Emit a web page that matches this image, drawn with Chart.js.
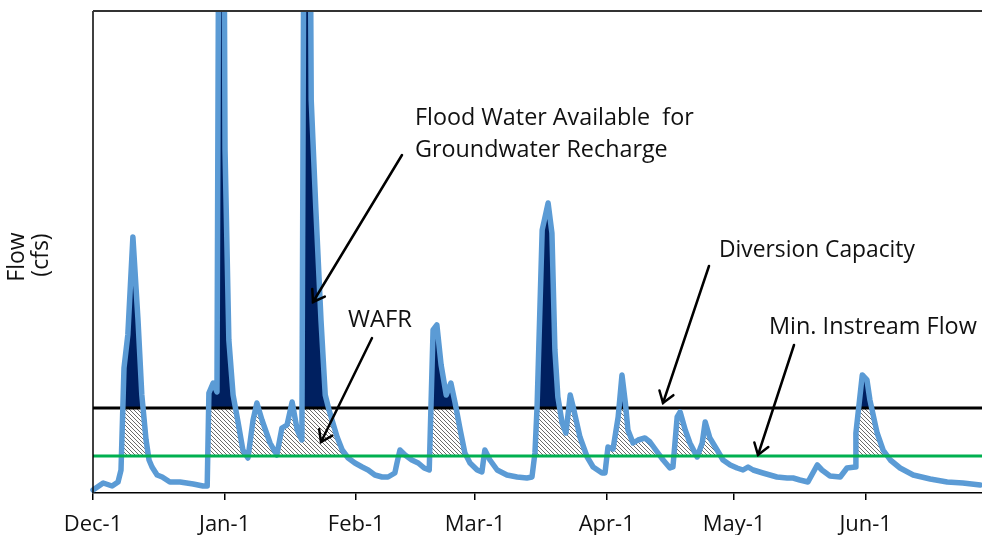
<!DOCTYPE html>
<html>
<head>
<meta charset="utf-8">
<script src="https://cdn.jsdelivr.net/npm/chart.js@4.4.1/dist/chart.umd.min.js"></script>
<style>
html,body{margin:0;padding:0;background:#fff;}
#wrap{width:982px;height:535px;position:relative;}
</style>
</head>
<body>
<div id="wrap"><canvas id="c"></canvas></div>
<script>
// ---- data (days since Dec-1, flow in arbitrary cfs units) ----
const flowDays = [0.0,2.4,4.5,5.9,6.6,7.3,8.2,9.4,10.6,11.5,12.5,13.2,13.9,15.1,16.3,18.1,20.5,23.6,25.9,26.9,
  27.3,28.3,29.2,30.2,31.1,32.0,33.0,34.2,35.3,36.5,37.7,38.6,39.8,41.7,43.3,44.5,45.7,46.9,48.1,49.2,
  50.3,51.4,52.5,53.7,54.7,55.6,56.3,57.5,58.7,60.1,61.7,63.4,64.8,66.4,68.1,69.5,71.1,71.6,72.3,73.5,
  75.1,76.6,78.0,79.2,80.1,81.0,82.0,83.2,84.3,85.3,86.5,87.6,88.8,90.5,91.6,92.3,93.5,95.2,97.5,99.9,
  102.2,103.4,104.1,104.6,105.8,107.2,108.1,108.8,109.5,110.5,111.4,112.4,113.1,114.7,116.4,117.8,119.9,120.6,121.3,122.5,
  123.7,124.6,125.4,126.0,127.2,128.4,130.0,131.2,132.9,134.3,135.9,136.6,137.6,138.3,139.5,140.6,142.3,143.5,144.2,145.3,
  147.0,148.4,150.1,151.7,153.1,154.3,155.5,157.8,161.1,163.5,164.9,166.5,168.4,170.6,171.7,173.6,176.0,177.6,179.5,179.7,
  181.2,182.3,183.0,184.7,186.1,187.8,190.1,193.2,197.2,201.2,204.9,209.0];
const flowValues = [6,20,14,22,46,250,316,512,346,196,106,66,52,36,32,22,22,18,14,14,
  200,220,202,2586,686,306,196,140,86,70,146,180,146,100,76,130,136,182,126,106,
  2586,786,566,346,196,166,146,112,86,70,60,52,46,36,32,32,40,60,86,76,
  66,60,50,46,326,336,256,196,220,180,126,80,60,46,42,86,66,46,36,32,
  30,32,80,172,526,580,520,286,192,140,120,196,172,112,72,52,40,40,92,88,
  152,236,180,126,100,106,110,102,82,66,50,52,152,162,126,100,72,100,142,110,
  86,66,56,50,46,52,46,40,32,30,30,26,22,56,46,34,32,50,52,120,
  236,226,186,120,86,66,50,36,28,22,20,16];
const diversionCapacity = 170;
const minInstreamFlow = 74;
const tickDays = [0,31,62,90,121,151,182];
const tickLabels = ['Dec-1','Jan-1','Feb-1','Mar-1','Apr-1','May-1','Jun-1'];
const dayRange = [0, 209.4];
const flowRange = [0, 964];

// ---- styles ----
const FONT = "'Open Sans', 'DejaVu Sans', sans-serif";

function makeHatch(){
  const c = document.createElement('canvas');
  c.width = 4; c.height = 4;
  const g = c.getContext('2d');
  g.fillStyle = '#ffffff'; g.fillRect(0,0,4,4);
  g.strokeStyle = '#5a5a5a'; g.lineWidth = 0.9;
  g.beginPath();
  g.moveTo(-1,-1); g.lineTo(5,5);
  g.moveTo(-1,3); g.lineTo(1,5);
  g.moveTo(3,-1); g.lineTo(5,1);
  g.stroke();
  return g.createPattern(c, 'repeat');
}
const hatch = makeHatch();

const flowPts = flowDays.map((d,i)=>({x:d, y:flowValues[i]}));
const hLine = v => [{x:dayRange[0], y:v},{x:dayRange[1], y:v}];

function fitSize(ctx, text, width){
  ctx.font = '100px ' + FONT;
  return 100 * width / ctx.measureText(text).width;
}

const annotations = {
  id: 'annotations',
  afterDraw(chart){
    const ctx = chart.ctx, a = chart.chartArea;
    ctx.save();
    // frame: left axis + top border
    ctx.strokeStyle = '#000'; ctx.lineWidth = 1.5;
    ctx.beginPath();
    ctx.moveTo(a.left, a.bottom); ctx.lineTo(a.left, a.top);
    ctx.stroke();
    ctx.strokeStyle = '#333'; ctx.lineWidth = 2;
    ctx.beginPath();
    ctx.moveTo(a.left, a.top); ctx.lineTo(a.right, a.top);
    ctx.stroke();

    ctx.fillStyle = '#111';
    ctx.textBaseline = 'middle';
    ctx.textAlign = 'left';
    // Flood water text (two lines, same size)
    const s1 = fitSize(ctx, 'Flood Water Available  for', 280);
    const s2 = fitSize(ctx, 'Groundwater Recharge', 252);
    const sf = (s1 + s2) / 2;
    ctx.font = sf + 'px ' + FONT;
    ctx.fillText('Flood Water Available  for', 415, 118);
    ctx.fillText('Groundwater Recharge', 415, 150);
    const texts = [
      ['WAFR', 348, 320, 64],
      ['Diversion Capacity', 719, 251, 196],
      ['Min. Instream Flow', 769, 327, 208]
    ];
    texts.forEach(t => {
      const s = fitSize(ctx, t[0], t[3]);
      ctx.font = s + 'px ' + FONT;
      ctx.fillText(t[0], t[1], t[2]);
    });
    // y axis title (rotated, two lines)
    ctx.textAlign = 'center';
    ctx.font = '23px ' + FONT;
    [['Flow', 17, 257], ['(cfs)', 41, 255]].forEach(t => {
      ctx.save();
      ctx.translate(t[1], t[2]);
      ctx.rotate(-Math.PI/2);
      ctx.fillText(t[0], 0, 0);
      ctx.restore();
    });
    // arrows
    const arrows = [
      [402,155,313,302],
      [372,338,321,442],
      [709,266,663,403],
      [794,345,758,455]
    ];
    ctx.strokeStyle = '#000'; ctx.lineWidth = 2.5; ctx.lineCap = 'round';
    arrows.forEach(([x1,y1,x2,y2]) => {
      ctx.beginPath(); ctx.moveTo(x1,y1); ctx.lineTo(x2,y2); ctx.stroke();
      const ang = Math.atan2(y1-y2, x1-x2), L = 13, da = 0.6;
      ctx.beginPath();
      ctx.moveTo(x2 + L*Math.cos(ang+da), y2 + L*Math.sin(ang+da));
      ctx.lineTo(x2, y2);
      ctx.lineTo(x2 + L*Math.cos(ang-da), y2 + L*Math.sin(ang-da));
      ctx.stroke();
    });
    ctx.restore();
  }
};

new Chart(document.getElementById('c'), {
  type: 'line',
  data: {
    datasets: [
      { label:'WAFR', data: flowPts, borderWidth:0, borderColor:'rgba(0,0,0,0)', pointRadius:0, tension:0,
        fill:{ target:{value:minInstreamFlow}, above: hatch, below:'rgba(0,0,0,0)' }, order:6 },
      { label:'Flood water', data: flowPts, borderWidth:0, borderColor:'rgba(0,0,0,0)', pointRadius:0, tension:0,
        fill:{ target:{value:diversionCapacity}, above:'#002060', below:'rgba(0,0,0,0)' }, order:5 },
      { label:'Diversion Capacity', data: hLine(diversionCapacity), borderColor:'#000', borderWidth:3,
        pointRadius:0, fill:false, order:4 },
      { label:'Flow', data: flowPts, borderColor:'#5B9BD5', borderWidth:5.5, pointRadius:0, tension:0,
        borderJoinStyle:'round', borderCapStyle:'round', fill:false, order:3,
        clip:{left:3, top:0, right:3, bottom:3} },
      { label:'Min. Instream Flow', data: hLine(minInstreamFlow), borderColor:'#00B050', borderWidth:3,
        pointRadius:0, fill:false, order:2 }
    ]
  },
  options: {
    responsive: true,
    maintainAspectRatio: false,
    devicePixelRatio: 1,
    animation: false,
    events: [],
    layout: { padding: { left:93, top:11, right:0, bottom:0 } },
    plugins: { legend:{display:false}, tooltip:{enabled:false}, title:{display:false} },
    scales: {
      x: {
        type:'linear', min:dayRange[0], max:dayRange[1],
        grid:{ display:true, drawOnChartArea:false, drawTicks:true, tickLength:7, color:'#000', lineWidth:1.5 },
        border:{ display:true, color:'#000', width:1.5 },
        ticks:{ autoSkip:false, maxRotation:0, padding:12, color:'#111',
          font:{ family:FONT, size:22 },
          callback:(v)=>{ const i = tickDays.indexOf(v); return i >= 0 ? tickLabels[i] : ''; } },
        afterBuildTicks:(s)=>{ s.ticks = tickDays.map(v=>({value:v})); },
        afterFit:(s)=>{ s.height = 42; }
      },
      y: { type:'linear', display:false, min:flowRange[0], max:flowRange[1] }
    }
  },
  plugins: [annotations]
});
</script>
</body>
</html>
